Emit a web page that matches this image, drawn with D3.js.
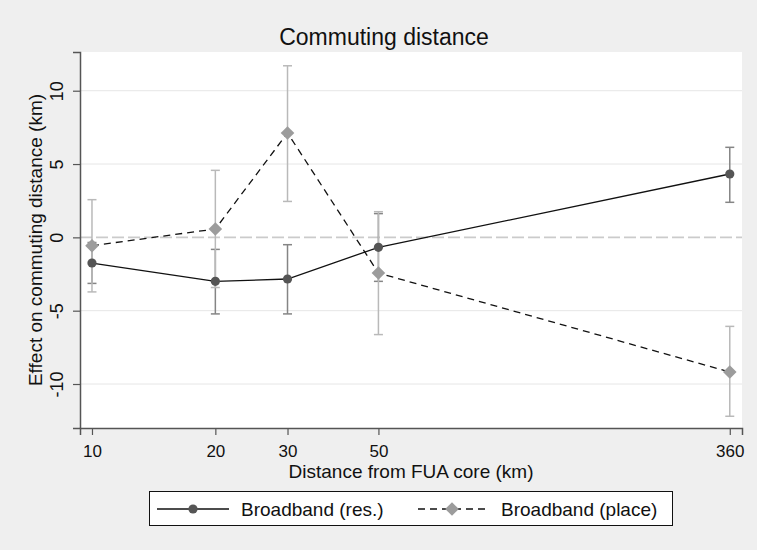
<!DOCTYPE html>
<html>
<head>
<meta charset="utf-8">
<script src="https://cdn.jsdelivr.net/npm/d3@7"></script>
<style>
  html, body { margin: 0; padding: 0; background: #efefef; }
  svg { display: block; font-family: "Liberation Sans", Arial, sans-serif; }
</style>
</head>
<body>
<svg id="chart" width="757" height="550"></svg>
<script>
// ---- data ----
const distances = [10, 20, 30, 50, 360];
const xTickLabels = ["10", "20", "30", "50", "360"];
const yTicks = [-10, -5, 0, 5, 10];
const resEst  = [-1.75, -3.00, -2.84, -0.68, 4.32];
const resLo   = [-3.14, -5.22, -5.22, -3.00, 2.39];
const resHi   = [-0.35, -0.82, -0.50, 1.62, 6.14];
const placeEst = [-0.57, 0.57, 7.12, -2.43, -9.18];
const placeLo  = [-3.72, -3.42, 2.45, -6.63, -12.20];
const placeHi  = [2.57, 4.57, 11.70, 1.75, -6.07];
const seriesNames = ["Broadband (res.)", "Broadband (place)"];

// ---- layout ----
const svg = d3.select("#chart");
const W = 757, H = 550;
const plot = { left: 80, right: 742, top: 52, bottom: 428 };

svg.append("rect").attr("width", W).attr("height", H).attr("fill", "#efefef");
svg.append("rect")
  .attr("x", plot.left).attr("y", plot.top)
  .attr("width", plot.right - plot.left).attr("height", plot.bottom - plot.top)
  .attr("fill", "#ffffff");

const x = d3.scaleLog().domain([9.349, 385.6]).range([plot.left, plot.right]);
const y = d3.scaleLinear().domain([-13.0, 12.64]).range([plot.bottom, plot.top]);

// gridlines
svg.append("g").selectAll("line").data(yTicks.filter(d => d !== 0)).join("line")
  .attr("x1", plot.left).attr("x2", plot.right)
  .attr("y1", d => y(d)).attr("y2", d => y(d))
  .attr("stroke", "#e6e6e6").attr("stroke-width", 1);

// zero reference line
svg.append("line")
  .attr("x1", plot.left).attr("x2", plot.right)
  .attr("y1", y(0)).attr("y2", y(0))
  .attr("stroke", "#cbcbcb").attr("stroke-width", 1.6)
  .attr("stroke-dasharray", "12,4");

// axes
const yAxis = d3.axisLeft(y).tickValues(yTicks).tickSize(7).tickFormat(d => String(d));
const gy = svg.append("g").attr("transform", `translate(${plot.left},0)`).call(yAxis);
gy.select(".domain").attr("stroke", "#555").attr("stroke-width", 1.5);
gy.selectAll(".tick line").attr("stroke", "#555").attr("stroke-width", 1.2);
gy.selectAll(".tick text")
  .attr("font-size", 18).attr("fill", "#111")
  .attr("text-anchor", "middle")
  .attr("x", 0).attr("dy", 0)
  .attr("transform", "translate(-17,0) rotate(-90)");

const xAxis = d3.axisBottom(x).tickValues(distances).tickSize(7)
  .tickFormat((d, i) => xTickLabels[i]);
const gx = svg.append("g").attr("transform", `translate(0,${plot.bottom})`).call(xAxis);
gx.select(".domain").attr("stroke", "#555").attr("stroke-width", 1.5);
gx.selectAll(".tick line").attr("stroke", "#555").attr("stroke-width", 1.2);
gx.selectAll(".tick text")
  .attr("font-size", 17).attr("fill", "#111")
  .attr("y", 28.5).attr("dy", 0);

// error bars
function drawCI(lo, hi, color) {
  const g = svg.append("g").attr("stroke", color).attr("stroke-width", 1.5);
  distances.forEach((d, i) => {
    const cx = x(d);
    g.append("line").attr("x1", cx).attr("x2", cx).attr("y1", y(lo[i])).attr("y2", y(hi[i]));
    g.append("line").attr("x1", cx - 4.5).attr("x2", cx + 4.5).attr("y1", y(lo[i])).attr("y2", y(lo[i]));
    g.append("line").attr("x1", cx - 4.5).attr("x2", cx + 4.5).attr("y1", y(hi[i])).attr("y2", y(hi[i]));
  });
}
drawCI(resLo, resHi, "#858585");
drawCI(placeLo, placeHi, "#b9b9b9");

// lines
const line = d3.line().x(d => x(d[0])).y(d => y(d[1]));
svg.append("path").datum(distances.map((d, i) => [d, resEst[i]]))
  .attr("d", line).attr("fill", "none").attr("stroke", "#111").attr("stroke-width", 1.3);
svg.append("path").datum(distances.map((d, i) => [d, placeEst[i]]))
  .attr("d", line).attr("fill", "none").attr("stroke", "#111").attr("stroke-width", 1.3)
  .attr("stroke-dasharray", "7,5");

// markers
const diamond = (cx, cy, r) => `M${cx},${cy - r}L${cx + r},${cy}L${cx},${cy + r}L${cx - r},${cy}Z`;
svg.append("g").selectAll("circle").data(distances).join("circle")
  .attr("cx", d => x(d)).attr("cy", (d, i) => y(resEst[i])).attr("r", 4.6)
  .attr("fill", "#555555");
svg.append("g").selectAll("path").data(distances).join("path")
  .attr("d", (d, i) => diamond(x(d), y(placeEst[i]), 6.8))
  .attr("fill", "#9c9c9c");

// title & axis titles
svg.append("text").attr("x", 384).attr("y", 45).attr("text-anchor", "middle")
  .attr("font-size", 23).attr("fill", "#111").text("Commuting distance");
svg.append("text").attr("transform", "translate(42,240) rotate(-90)")
  .attr("text-anchor", "middle").attr("font-size", 19).attr("fill", "#111")
  .text("Effect on commuting distance (km)");
svg.append("text").attr("x", (plot.left + plot.right) / 2).attr("y", 478)
  .attr("text-anchor", "middle").attr("font-size", 19).attr("fill", "#111")
  .text("Distance from FUA core (km)");

// legend
const lg = svg.append("g");
lg.append("rect").attr("x", 149.5).attr("y", 491.5).attr("width", 523).attr("height", 34)
  .attr("fill", "#fff").attr("stroke", "#111").attr("stroke-width", 1);
const ly = 509;
lg.append("line").attr("x1", 157).attr("x2", 229).attr("y1", ly).attr("y2", ly)
  .attr("stroke", "#111").attr("stroke-width", 1.3);
lg.append("circle").attr("cx", 193).attr("cy", ly).attr("r", 4.6).attr("fill", "#555555");
lg.append("text").attr("x", 241).attr("y", 516).attr("font-size", 19).attr("fill", "#111")
  .text(seriesNames[0]);
lg.append("line").attr("x1", 418).attr("x2", 489).attr("y1", ly).attr("y2", ly)
  .attr("stroke", "#111").attr("stroke-width", 1.3).attr("stroke-dasharray", "7,5");
lg.append("path").attr("d", diamond(452, ly, 6.8)).attr("fill", "#9c9c9c");
lg.append("text").attr("x", 501).attr("y", 516).attr("font-size", 19).attr("fill", "#111")
  .text(seriesNames[1]);
</script>
</body>
</html>
